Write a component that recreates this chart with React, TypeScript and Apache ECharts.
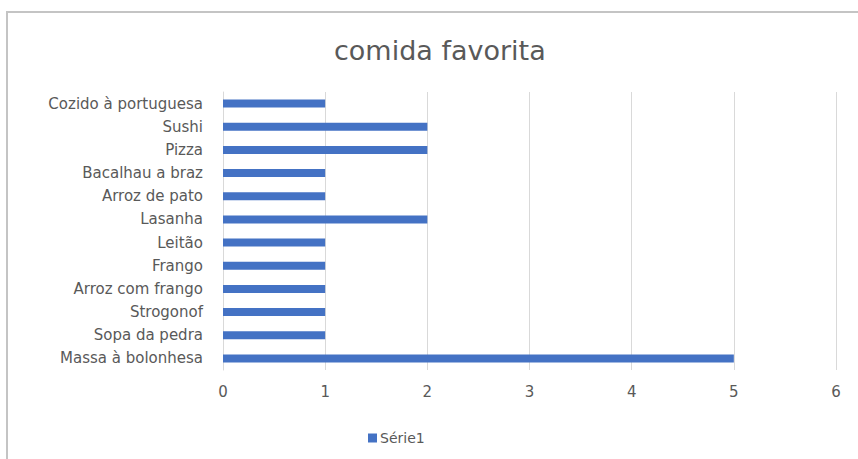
import React, { useEffect, useRef } from "react";
import * as echarts from "echarts";

const categories = [
  "Massa à bolonhesa",
  "Sopa da pedra",
  "Strogonof",
  "Arroz com frango",
  "Frango",
  "Leitão",
  "Lasanha",
  "Arroz de pato",
  "Bacalhau a braz",
  "Pizza",
  "Sushi",
  "Cozido à portuguesa",
];
const values = [5, 1, 1, 1, 1, 1, 2, 1, 1, 2, 2, 1];
const seriesName = "Série1";
const title = "comida favorita";

export default function App() {
  const ref = useRef<HTMLDivElement>(null);
  useEffect(() => {
    if (!ref.current) return;
    const chart = echarts.init(ref.current, null, { renderer: "svg" });
    const font = "'DejaVu Sans', sans-serif";
    chart.setOption({
      animation: false,
      backgroundColor: "#ffffff",
      graphic: [
        {
          type: "rect",
          shape: { x: 7, y: 12, width: 900, height: 500 },
          style: { fill: "none", stroke: "#c4c4c4", lineWidth: 2 },
          silent: true,
        },
      ],
      title: {
        text: title,
        left: 329,
        top: 32,
        textStyle: {
          color: "#595959",
          fontSize: 27,
          fontWeight: "normal",
          fontFamily: font,
        },
      },
      legend: {
        data: [seriesName],
        left: 363,
        top: 426,
        itemWidth: 9,
        itemHeight: 9,
        icon: "rect",
        itemGap: 4,
        textStyle: { color: "#595959", fontSize: 14, fontFamily: font, padding: [0, 0, 0, -2] },
      },
      grid: { left: 223, right: 22, top: 92, bottom: 89, containLabel: false },
      xAxis: {
        type: "value",
        min: 0,
        max: 6,
        interval: 1,
        axisLine: { show: false },
        axisTick: { show: false },
        splitLine: { show: true, lineStyle: { color: "#d9d9d9", width: 1 } },
        axisLabel: { color: "#595959", fontSize: 15, fontFamily: font, margin: 14 },
      },
      yAxis: {
        type: "category",
        data: categories,
        axisLine: { show: true, lineStyle: { color: "#d9d9d9" } },
        axisTick: { show: false },
        axisLabel: { color: "#595959", fontSize: 15, fontFamily: font, margin: 20 },
      },
      series: [
        {
          name: seriesName,
          type: "bar",
          data: values,
          barWidth: 8,
          itemStyle: { color: "#4472C4" },
        },
      ],
    });
    return () => chart.dispose();
  }, []);
  return (
    <div
      ref={ref}
      style={{ position: "fixed", left: 0, top: 0, width: 858, height: 459 }}
    />
  );
}
